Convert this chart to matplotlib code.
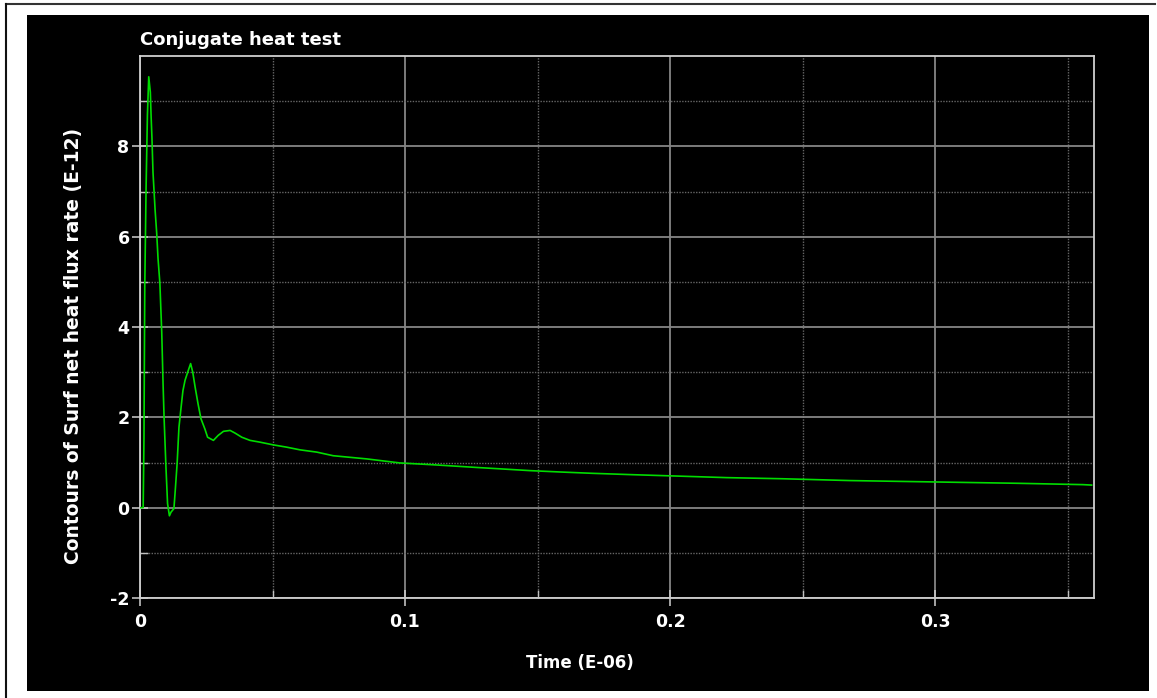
import numpy as np
import matplotlib
matplotlib.use("Agg")
import matplotlib.pyplot as plt
from matplotlib.patches import Rectangle
from matplotlib.lines import Line2D

# data (time in E-06, flux rate in E-12)
time = [0.0, 0.0012, 0.0015, 0.0018, 0.0023, 0.0028, 0.0033, 0.0039, 0.0042,
        0.0045, 0.0049, 0.0057, 0.0063, 0.0068, 0.0075, 0.0082, 0.0087, 0.0091,
        0.0098, 0.0104, 0.0111, 0.0117, 0.0128, 0.0133, 0.0140, 0.0147, 0.0155,
        0.0162, 0.0170, 0.0180, 0.0191, 0.0199, 0.0208, 0.0219, 0.0230, 0.0245,
        0.0255, 0.0277, 0.0295, 0.0315, 0.0340, 0.0359, 0.0384, 0.0415, 0.0453,
        0.0503, 0.0553, 0.0604, 0.0667, 0.0729, 0.0855, 0.0981, 0.1106, 0.1271,
        0.1358, 0.1472, 0.1585, 0.1709, 0.1860, 0.2025, 0.2214, 0.2426, 0.2679,
        0.2992, 0.3308, 0.3558, 0.3591]
flux = [0.0, 0.0, 1.56, 4.9, 7.1, 8.7, 9.54, 9.2, 8.65,
        8.2, 7.43, 6.59, 6.08, 5.52, 4.97, 3.89, 2.75, 1.97,
        0.89, 0.09, -0.18, -0.1, -0.02, 0.38, 0.97, 1.78, 2.22,
        2.59, 2.82, 3.0, 3.19, 3.0, 2.67, 2.3, 1.97, 1.74,
        1.56, 1.49, 1.6, 1.69, 1.71, 1.65, 1.56, 1.49, 1.45,
        1.39, 1.34, 1.28, 1.23, 1.15, 1.08, 0.99, 0.95, 0.89,
        0.86, 0.82, 0.79, 0.76, 0.73, 0.70, 0.665, 0.64, 0.60,
        0.57, 0.54, 0.51, 0.50]

x_ticks = [0, 0.1, 0.2, 0.3]
x_labels = ["0", "0.1", "0.2", "0.3"]
y_ticks = [-2, 0, 2, 4, 6, 8]
y_labels = ["-2", "0", "2", "4", "6", "8"]

W, H = 1157, 698
fig = plt.figure(figsize=(W / 100, H / 100), dpi=100, facecolor="white")

# black panel and thin outer frame
fig.patches.append(Rectangle((27 / W, 7 / H), 1122 / W, 676 / H,
                             transform=fig.transFigure, facecolor="black",
                             edgecolor="none", zorder=-5))
fig.lines.append(Line2D([6 / W, 1155 / W], [1 - 4 / H, 1 - 4 / H],
                        transform=fig.transFigure, color="#333333", lw=1.5,
                        zorder=-5))
fig.lines.append(Line2D([6 / W, 6 / W], [0, 1 - 4 / H],
                        transform=fig.transFigure, color="#111111", lw=1.5,
                        zorder=-5))

ax = fig.add_axes([140 / W, 100 / H, 954 / W, 542 / H])
ax.set_facecolor("black")
ax.plot(time, flux, color="#00dd00", lw=1.2, zorder=3)

ax.set_xlim(0, 0.36)
ax.set_ylim(-2, 10)
ax.set_xticks(x_ticks)
ax.set_xticklabels(x_labels)
ax.set_yticks(y_ticks)
ax.set_yticklabels(y_labels)
ax.set_xticks(np.arange(0.05, 0.36, 0.1), minor=True)
ax.set_yticks(np.arange(-1, 10, 2), minor=True)

ax.grid(which="major", color="#858585", lw=1.3, ls="-")
ax.grid(which="minor", color="#666666", lw=1.0, ls=(0, (1, 1)))
ax.set_axisbelow(True)

for s in ax.spines.values():
    s.set_color("#d0d0d0")
    s.set_linewidth(1.3)

ax.tick_params(which="major", direction="inout", length=11, width=1.1,
               color="#d0d0d0", labelcolor="white", labelsize=12.5, pad=2)
ax.tick_params(which="minor", direction="in", length=6, width=1.0,
               color="#c0c0c0")
ax.tick_params(axis="x", which="major", pad=5)
for lab in ax.get_xticklabels() + ax.get_yticklabels():
    lab.set_fontweight("bold")

fig.text(140 / W, 1 - 40 / H, "Conjugate heat test", color="white",
         fontsize=13, fontweight="bold", ha="left", va="center")
fig.text(74 / W, 1 - 346 / H, "Contours of Surf net heat flux rate (E-12)",
         color="white", fontsize=13.5, fontweight="bold", rotation=90,
         ha="center", va="center")
fig.text(580 / W, 1 - 663 / H, "Time (E-06)", color="white", fontsize=12,
         fontweight="bold", ha="center", va="center")

fig.savefig("out.png", dpi=100, facecolor="white")
